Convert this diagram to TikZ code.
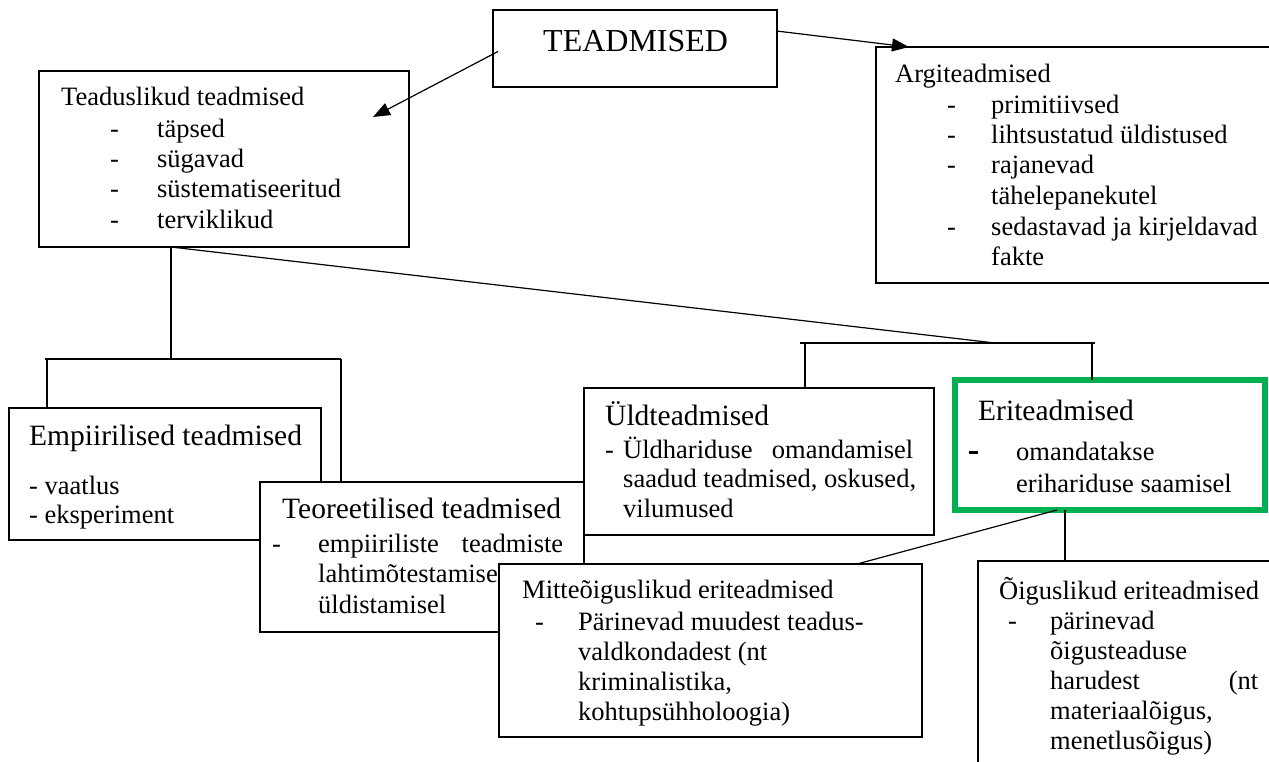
\documentclass[tikz,border=0pt]{standalone}
\usepackage{fontspec}
\setmainfont{Liberation Serif}
\usetikzlibrary{arrows.meta}
\definecolor{erigreen}{RGB}{0,176,80}

\begin{document}
\begin{tikzpicture}[x=1pt,y=-1pt,
  box/.style={draw,line width=1.8pt,fill=white,inner sep=0,outer sep=0,anchor=north west},
  txt/.style={anchor=base west,inner sep=0,font=\fontsize{26.5}{30}\selectfont},
  head/.style={txt,font=\fontsize{29.5}{34}\selectfont},
  link/.style={line width=1.2pt},
  arr/.style={link,-{Triangle[length=17pt,width=13pt]}}]
\useasboundingbox (0,0) rectangle (1269,761);
\clip (0,0) rectangle (1269,761);
\node[box,minimum width=284pt,minimum height=77pt] (teadmised) at (493,10) {};
\node[txt,font=\fontsize{32}{36}\selectfont] (t-teadmised) at (543,51) {TEADMISED};
\node[box,minimum width=370pt,minimum height=176pt] (teaduslik) at (39,71) {};
\node[txt] (t-tead0) at (61,105) {Teaduslikud teadmised};
\node[txt] (t-tead1) at (110,137) {\makebox[47pt][l]{-}täpsed};
\node[txt] (t-tead2) at (110,167) {\makebox[47pt][l]{-}sügavad};
\node[txt] (t-tead3) at (110,197) {\makebox[47pt][l]{-}süstematiseeritud};
\node[txt] (t-tead4) at (110,228) {\makebox[47pt][l]{-}terviklikud};
\node[box,minimum width=500pt,minimum height=236pt] (argi) at (876,47) {};
\node[txt] (t-argi0) at (895,82) {Argiteadmised};
\node[txt] (t-argi1) at (947,113) {\makebox[44pt][l]{-}primitiivsed};
\node[txt] (t-argi2) at (947,143) {\makebox[44pt][l]{-}lihtsustatud üldistused};
\node[txt] (t-argi3) at (947,173) {\makebox[44pt][l]{-}rajanevad};
\node[txt] (t-argi4) at (991,204) {tähelepanekutel};
\node[txt] (t-argi5) at (947,235) {\makebox[44pt][l]{-}sedastavad ja kirjeldavad};
\node[txt] (t-argi6) at (991,265) {fakte};
\coordinate (tipL) at (373,117);
\draw[arr] ([xshift=5pt,yshift=-3pt]teadmised.west) -- (tipL);
\draw[arr] (teadmised.7) -- ([xshift=33pt]argi.north west);
\coordinate (lbar) at (171,359);
\coordinate (lb-w) at (47,359);
\coordinate (lb-e) at (341,359);
\coordinate (rb-w) at (805,343);
\coordinate (rb-e) at (1092,343);
\coordinate (rjoin) at (995,343);
\draw[link] (lbar |- teaduslik.south) -- (lbar);
\draw[link] ([xshift=-2pt]lb-w) -- (lb-e);
\draw[link] (lbar |- teaduslik.south) -- (rjoin);
\draw[link] ([xshift=-5pt]rb-w) -- ([xshift=3pt]rb-e);
\node[box,minimum width=312pt,minimum height=132pt] (empiir) at (9,408) {};
\draw[link] (lb-w) -- (lb-w |- empiir.north);
\draw[link] (lb-e) -- (lb-e |- empiir.north) -- +(0,74);
\node[head] (t-emp0) at (29,445) {Empiirilised teadmised};
\node[txt] (t-emp1) at (29,494) {- vaatlus};
\node[txt] (t-emp2) at (29,523) {- eksperiment};
\node[box,minimum width=324pt,minimum height=150pt] (teoor) at (260,482) {};
\node[head] (t-teo0) at (282,518) {Teoreetilised teadmised};
\node[txt] (t-teo1) at (272,552) {\makebox[46pt][l]{-}\makebox[245pt][s]{empiiriliste teadmiste}};
\node[txt] (t-teo2) at (318,582) {lahtimõtestamise};
\node[txt] (t-teo3) at (318,613) {üldistamisel};
\node[box,minimum width=350pt,minimum height=147pt] (yld) at (584,388) {};
\draw[link] (rb-w) -- (rb-w |- yld.north);
\node[head] (t-yld0) at (605,425) {Üldteadmised};
\node[txt] (t-yld1) at (605,458) {\makebox[18pt][l]{-}\makebox[290pt][s]{Üldhariduse omandamisel}};
\node[txt] (t-yld2) at (623,487) {saadud teadmised, oskused,};
\node[txt] (t-yld3) at (623,517) {vilumused};
\node[box,minimum width=423pt,minimum height=173pt] (mitte) at (499,564) {};
\node[txt] (t-mit0) at (522,598) {Mitteõiguslikud eriteadmised};
\node[txt] (t-mit1) at (535,630) {\makebox[43pt][l]{-}Pärinevad muudest teadus-};
\node[txt] (t-mit2) at (578,660) {valdkondadest (nt};
\node[txt] (t-mit3) at (578,690) {kriminalistika,};
\node[txt] (t-mit4) at (578,720) {kohtupsühholoogia)};
\node[box,draw=erigreen,line width=5.5pt,minimum width=310pt,minimum height=130pt] (eri) at (955,380) {};
\draw[link] (rb-e) -- (rb-e |- eri.north);
\node[head] (t-eri0) at (978,420) {Eriteadmised};
\node[txt] (t-eri1) at (969,460) {\makebox[47pt][l]{\rule[6pt]{9pt}{3.5pt}}omandatakse};
\node[txt] (t-eri2) at (1016,492) {erihariduse saamisel};
\node[box,minimum width=400pt,minimum height=300pt] (oigus) at (978,561) {};
\draw[link] ([xshift=102pt]eri.south west) -- ([xshift=358pt]mitte.north west);
\draw[link] ([xshift=110pt]eri.south west) -- ([xshift=110pt]eri.south west |- oigus.north);
\node[txt] (t-oig0) at (999,599) {Õiguslikud eriteadmised};
\node[txt] (t-oig1) at (1008,629) {\makebox[42pt][l]{-}pärinevad};
\node[txt] (t-oig2) at (1050,659) {õigusteaduse};
\node[txt] (t-oig3) at (1050,689) {\makebox[208pt][s]{harudest (nt}};
\node[txt] (t-oig4) at (1050,719) {materiaalõigus,};
\node[txt] (t-oig5) at (1050,749) {menetlusõigus)};
\end{tikzpicture}
\end{document}
